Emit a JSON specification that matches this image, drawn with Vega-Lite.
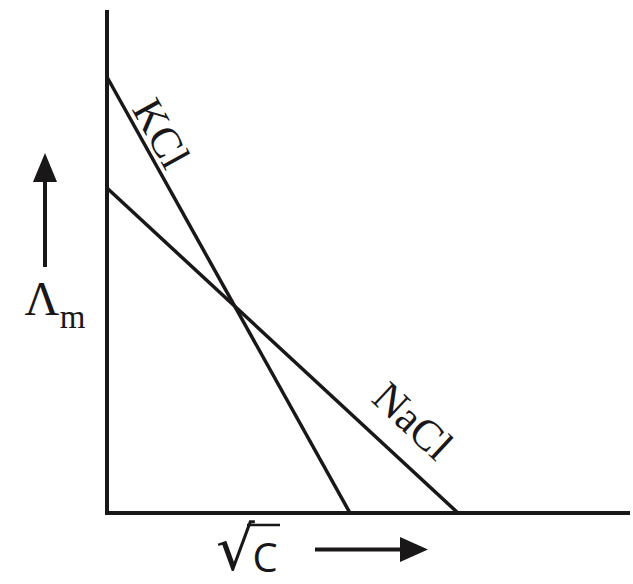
{
  "$schema": "https://vega.github.io/schema/vega-lite/v6.json",
  "width": 633,
  "height": 584,
  "autosize": {"type": "none"},
  "padding": 0,
  "background": "white",
  "config": {"view": {"stroke": null}},
  "datasets": {
    "axes": [
      {"x": 0, "y": 5.03, "o": 0},
      {"x": 0, "y": 0, "o": 1},
      {"x": 5.23, "y": 0, "o": 2}
    ],
    "curves": [
      {"series": "KCl", "x": 0, "y": 4.36},
      {"series": "KCl", "x": 2.43, "y": 0},
      {"series": "NaCl", "x": 0, "y": 3.25},
      {"series": "NaCl", "x": 3.51, "y": 0}
    ],
    "shafts": [
      {"name": "up", "x": -0.62, "y": 2.46, "x2": -0.62, "y2": 3.35},
      {"name": "right", "x": 2.08, "y": -0.365, "x2": 3.0, "y2": -0.365}
    ],
    "upHead": [{"x": -0.62, "y": 3.455}],
    "rightHead": [{"x": 3.07, "y": -0.365}],
    "curveLabels": [
      {"label": "KCl", "x": 0.53, "y": 3.79, "angle": 61},
      {"label": "NaCl", "x": 3.05, "y": 0.91, "angle": 43}
    ],
    "lambda": [{"t": "Λ", "x": -0.65, "y": 1.98}],
    "sub": [{"t": "m", "x": -0.345, "y": 1.85}],
    "radical": [{"t": "√", "x": 1.285, "y": -0.57}],
    "radBar": [{"x": 1.4, "x2": 1.73, "y": -0.12}],
    "cLetter": [{"t": "C", "x": 1.58, "y": -0.59}]
  },
  "encoding": {
    "x": {"field": "x", "type": "quantitative", "scale": {"domain": [-1.07, 5.26], "nice": false, "zero": false}, "axis": null},
    "y": {"field": "y", "type": "quantitative", "scale": {"domain": [-0.71, 5.13], "nice": false, "zero": false}, "axis": null}
  },
  "layer": [
    {
      "data": {"name": "axes"},
      "mark": {"type": "line", "color": "#1a1718", "strokeWidth": 4, "strokeJoin": "miter"},
      "encoding": {"order": {"field": "o"}}
    },
    {
      "data": {"name": "curves"},
      "mark": {"type": "line", "color": "#1a1718", "strokeWidth": 3.5},
      "encoding": {"detail": {"field": "series"}}
    },
    {
      "data": {"name": "shafts"},
      "mark": {"type": "rule", "color": "#1a1718", "strokeWidth": 4},
      "encoding": {"x2": {"field": "x2"}, "y2": {"field": "y2"}}
    },
    {
      "data": {"name": "radBar"},
      "mark": {"type": "rule", "color": "#1a1718", "strokeWidth": 2.5},
      "encoding": {"x2": {"field": "x2"}}
    },
    {
      "data": {"name": "upHead"},
      "mark": {"type": "point", "shape": "M0,-1L0.83,1L-0.83,1Z", "size": 841, "filled": true, "color": "#1a1718", "opacity": 1}
    },
    {
      "data": {"name": "rightHead"},
      "mark": {"type": "point", "shape": "M1,0L-1,0.89L-1,-0.89Z", "size": 784, "filled": true, "color": "#1a1718", "opacity": 1}
    },
    {
      "data": {"name": "curveLabels"},
      "mark": {"type": "text", "font": "Liberation Serif", "fontSize": 43, "align": "center", "baseline": "middle", "color": "#1a1718"},
      "encoding": {"text": {"field": "label"}, "angle": {"field": "angle", "type": "quantitative", "scale": null}}
    },
    {
      "data": {"name": "lambda"},
      "mark": {"type": "text", "font": "Liberation Serif", "fontSize": 48, "align": "center", "baseline": "alphabetic", "color": "#1a1718"},
      "encoding": {"text": {"field": "t"}}
    },
    {
      "data": {"name": "sub"},
      "mark": {"type": "text", "font": "Liberation Serif", "fontSize": 33, "align": "center", "baseline": "alphabetic", "color": "#1a1718"},
      "encoding": {"text": {"field": "t"}}
    },
    {
      "data": {"name": "radical"},
      "mark": {"type": "text", "font": "DejaVu Sans", "fontSize": 61, "align": "center", "baseline": "alphabetic", "color": "#1a1718"},
      "encoding": {"text": {"field": "t"}}
    },
    {
      "data": {"name": "cLetter"},
      "mark": {"type": "text", "font": "Open Sans", "fontSize": 40, "align": "center", "baseline": "alphabetic", "color": "#1a1718"},
      "encoding": {"text": {"field": "t"}}
    }
  ]
}
